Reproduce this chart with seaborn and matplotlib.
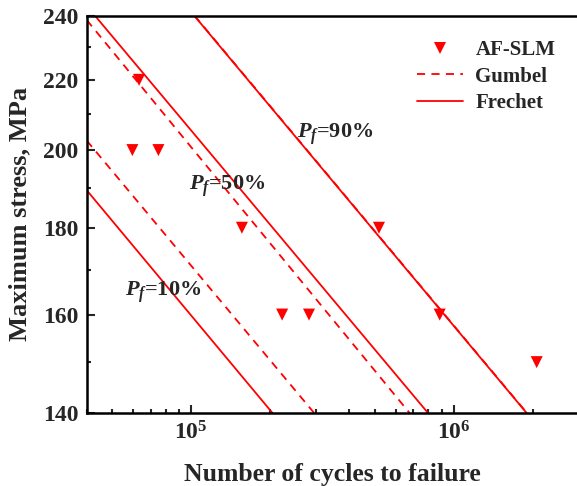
import numpy as np
import pandas as pd
import matplotlib
matplotlib.use("Agg")
import matplotlib.pyplot as plt
import matplotlib.ticker as mticker
from matplotlib.lines import Line2D
import seaborn as sns

# ---- data ----
N_af = [6.33e4, 5.97e4, 7.5e4, 1.56e5, 2.22e5, 2.81e5, 5.19e5, 8.84e5, 2.07e6]
S_af = [220, 200, 200, 180, 160, 160, 180, 160, 150]

frechet_10_N = [4.0e4, 2.04e5]
frechet_10_S = [189.4, 140]
frechet_50_N = [4.3e4, 7.98e5]
frechet_50_S = [240, 140]
frechet_90_N = [1.027e5, 1.895e6]
frechet_90_S = [240, 140]

gumbel_10_N = [4.0e4, 2.94e5]
gumbel_10_S = [202.6, 140]
gumbel_50_N = [4.0e4, 6.79e5]
gumbel_50_S = [238.6, 140]
gumbel_90_N = [1.03e5, 1.9e6]
gumbel_90_S = [240, 140]

y_major = [140, 160, 180, 200, 220, 240]
y_minor = [150, 170, 190, 210, 230]
x_major = [1e5, 1e6]
x_major_labels = [r"$\mathbf{10^{5}}$", r"$\mathbf{10^{6}}$"]

annot_text = [r"$P_f$=10%", r"$P_f$=50%", r"$P_f$=90%"]
annot_N = [5.6e4, 9.8e4, 2.54e5]
annot_S = [164.1, 189.4, 203.3]

legend_labels = ["AF-SLM", "Gumbel", "Frechet"]

# ---- style ----
sns.set_style("ticks")
plt.rcParams["font.family"] = ["Liberation Serif", "DejaVu Serif"]
plt.rcParams["font.weight"] = "bold"
plt.rcParams["axes.labelweight"] = "bold"
plt.rcParams["mathtext.fontset"] = "custom"
plt.rcParams["mathtext.rm"] = "Liberation Serif:bold"
plt.rcParams["mathtext.bf"] = "Liberation Serif:bold"
plt.rcParams["mathtext.it"] = "Liberation Serif:italic:bold"

fig = plt.figure(figsize=(5.77, 4.86), dpi=100)
ax = fig.add_axes([0.1503, 0.1502, 0.8532, 0.8175])

red = "#ff0000"
lw = 1.3
dash = (0, (4.5, 3.5))

for n, s in [(gumbel_10_N, gumbel_10_S), (gumbel_50_N, gumbel_50_S), (gumbel_90_N, gumbel_90_S)]:
    sns.lineplot(x=n, y=s, ax=ax, color=red, linestyle=dash, linewidth=lw, sort=False)
for n, s in [(frechet_10_N, frechet_10_S), (frechet_50_N, frechet_50_S), (frechet_90_N, frechet_90_S)]:
    sns.lineplot(x=n, y=s, ax=ax, color=red, linestyle="-", linewidth=lw, sort=False)

sns.scatterplot(x=N_af, y=S_af, ax=ax, marker="v", color=red, s=75, edgecolor="none", zorder=5)

ax.set_xscale("log")
ax.set_yscale("log")
ax.set_xlim(4e4, 3e6)
ax.set_ylim(140, 240)

ax.xaxis.set_major_locator(mticker.FixedLocator(x_major))
ax.xaxis.set_major_formatter(mticker.FixedFormatter(x_major_labels))
ax.xaxis.set_minor_locator(mticker.LogLocator(base=10, subs=np.arange(2, 10), numticks=20))
ax.xaxis.set_minor_formatter(mticker.NullFormatter())

ax.yaxis.set_major_locator(mticker.FixedLocator(y_major))
ax.yaxis.set_major_formatter(mticker.FixedFormatter([str(v) for v in y_major]))
ax.yaxis.set_minor_locator(mticker.FixedLocator(y_minor))
ax.yaxis.set_minor_formatter(mticker.NullFormatter())

ax.tick_params(axis="both", which="major", direction="in", length=6, width=1.5,
               labelsize=17, top=False, right=False, pad=6)
ax.tick_params(axis="both", which="minor", direction="in", length=3, width=1.5,
               top=False, right=False)
for t in ax.get_xticklabels() + ax.get_yticklabels():
    t.set_fontweight("bold")

for sp in ax.spines.values():
    sp.set_linewidth(1.8)
    sp.set_color("black")

ax.set_xlabel("Number of cycles to failure", fontsize=18.5, fontweight="bold", labelpad=13)
ax.set_ylabel("Maximum stress, MPa", fontsize=19, fontweight="bold", labelpad=8)

for txt, n, s in zip(annot_text, annot_N, annot_S):
    ax.text(n, s, txt, fontsize=16, fontweight="bold", ha="left", va="baseline")

handles = [
    Line2D([], [], marker="v", color=red, linestyle="none", markersize=8.5, markeredgewidth=0),
    Line2D([], [], color=red, linestyle=(0, (4.5, 3.5)), linewidth=lw),
    Line2D([], [], color=red, linestyle="-", linewidth=lw),
]
ax.legend(handles, legend_labels, loc="upper right", bbox_to_anchor=(0.99, 0.985),
          frameon=False, prop={"family": "Liberation Serif", "weight": "bold", "size": 15},
          handlelength=2.2, handletextpad=0.6, labelspacing=0.3)

fig.savefig("out.png", dpi=100)
